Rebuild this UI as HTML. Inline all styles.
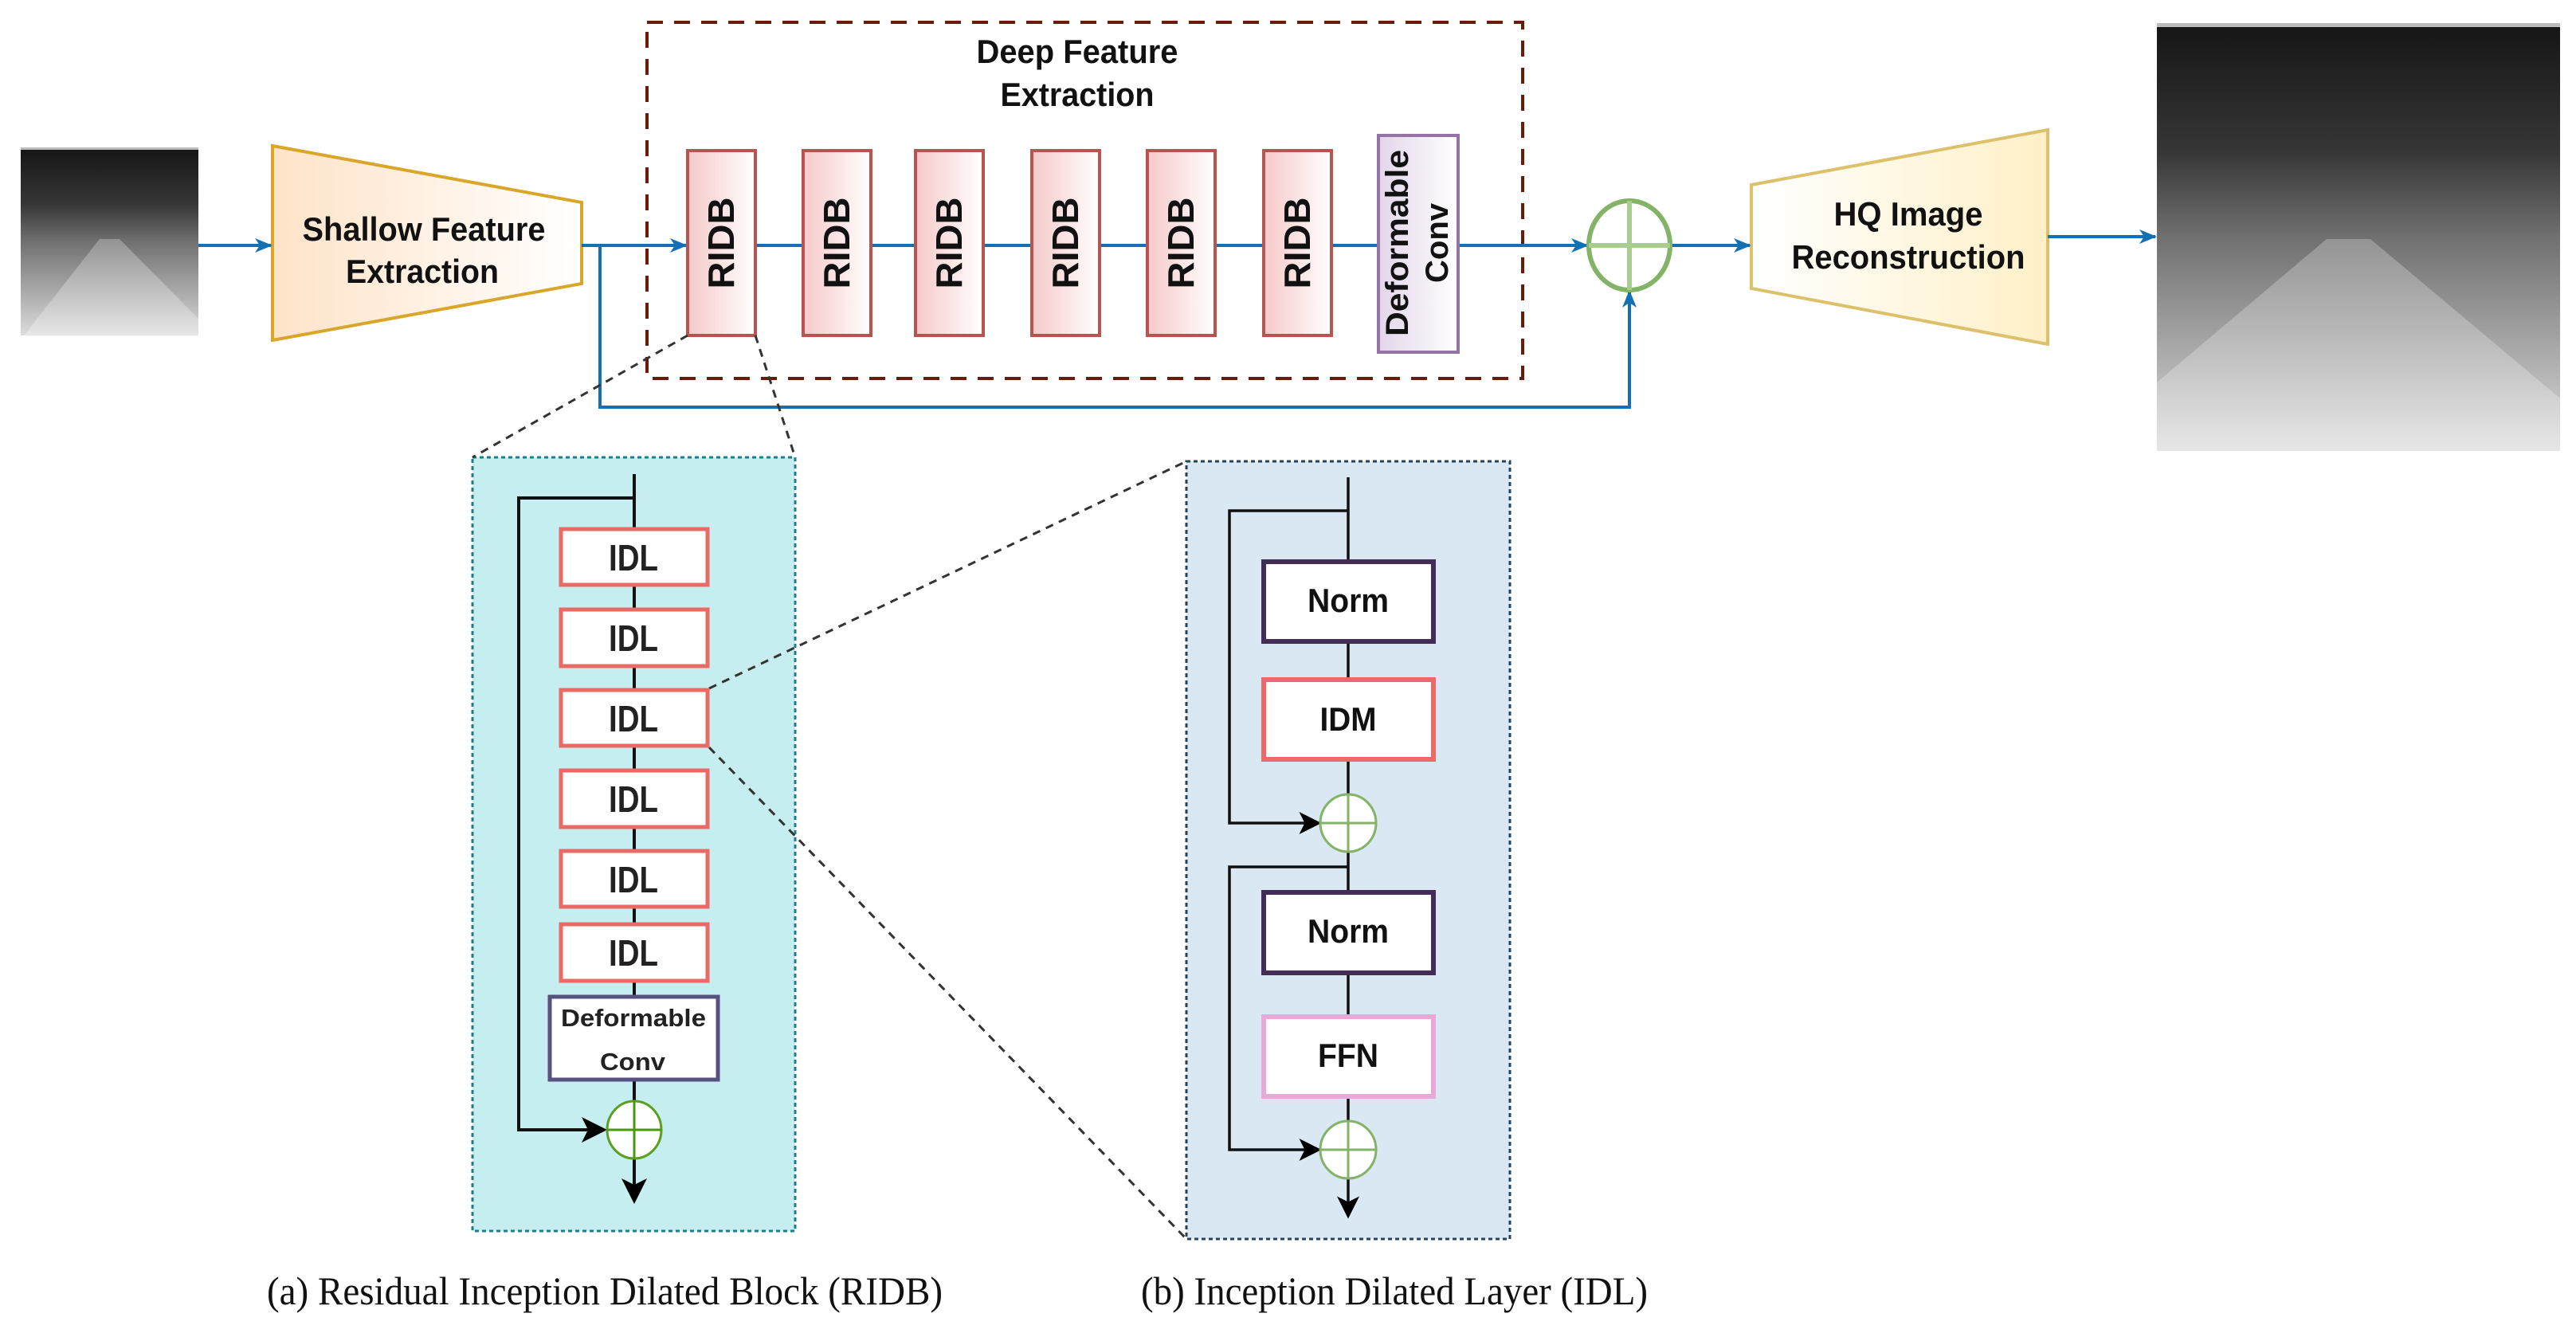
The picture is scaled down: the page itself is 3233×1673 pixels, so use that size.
<!DOCTYPE html>
<html><head><meta charset="utf-8"><style>html,body{margin:0;padding:0;background:#fff}svg{display:block}</style></head><body>
<svg width="3233" height="1673" viewBox="0 0 3233 1673" xmlns="http://www.w3.org/2000/svg" font-family="Liberation Sans, sans-serif">
<defs>
<linearGradient id="pk" x1="0" y1="0" x2="1" y2="0"><stop offset="0" stop-color="#f6c9c9"/><stop offset="1" stop-color="#fff"/></linearGradient>
<linearGradient id="lv" x1="0" y1="0" x2="1" y2="0"><stop offset="0" stop-color="#e3d6ea"/><stop offset="1" stop-color="#fff"/></linearGradient>
<linearGradient id="or" x1="0" y1="0" x2="1" y2="0"><stop offset="0" stop-color="#ffe3c8"/><stop offset="1" stop-color="#fff"/></linearGradient>
<linearGradient id="yl" x1="0" y1="0" x2="1" y2="0"><stop offset="0" stop-color="#fff"/><stop offset="1" stop-color="#fff0c8"/></linearGradient>
<linearGradient id="sky" x1="0" y1="0" x2="0" y2="1"><stop offset="0" stop-color="#151515"/><stop offset="0.3" stop-color="#363636"/><stop offset="0.5" stop-color="#707070"/><stop offset="1" stop-color="#dcdcdc"/></linearGradient>
<linearGradient id="road" x1="0" y1="0" x2="0" y2="1"><stop offset="0" stop-color="#9a9a9a"/><stop offset="1" stop-color="#e8e8e8"/></linearGradient>
<marker id="ab" markerWidth="22" markerHeight="22" refX="20" refY="11" orient="auto" markerUnits="userSpaceOnUse" viewBox="0 0 22 22"><path d="M0,2 L22,11 L0,20 L6,11 z" fill="#1370b5"/></marker>
<marker id="abk" markerWidth="8" markerHeight="8" refX="7" refY="4" orient="auto" viewBox="0 0 8 8"><path d="M0,0 L8,4 L0,8 L2,4 z" fill="#000"/></marker>
</defs>

<!-- input image -->
<rect x="26" y="185" width="223" height="236" fill="url(#sky)"/>
<polygon points="30,421 125,300 150,300 249,400 249,421" fill="url(#road)" opacity="0.85"/>
<rect x="26" y="185" width="223" height="3" fill="#bbb"/>
<!-- output image -->
<rect x="2707" y="29" width="506" height="537" fill="url(#sky)"/>
<polygon points="2707,566 2707,480 2920,300 2975,300 3213,500 3213,566" fill="url(#road)" opacity="0.85"/>
<rect x="2707" y="29" width="506" height="5" fill="#bbb"/>

<!-- trapezoids -->
<polygon points="342,183 730,254 730,356 342,427" fill="url(#or)" stroke="#d9a62a" stroke-width="4"/>
<polygon points="2198,232 2570,163 2570,432 2198,362" fill="url(#yl)" stroke="#dcc06a" stroke-width="4"/>
<g font-weight="bold" font-size="42" text-anchor="middle" fill="#111">
<text x="532" y="302" textLength="305" lengthAdjust="spacingAndGlyphs">Shallow Feature</text>
<text x="530" y="355" textLength="192" lengthAdjust="spacingAndGlyphs">Extraction</text>
<text x="2395" y="283" textLength="187" lengthAdjust="spacingAndGlyphs">HQ Image</text>
<text x="2395" y="337" textLength="293" lengthAdjust="spacingAndGlyphs">Reconstruction</text>
<text x="1352" y="79" textLength="253" lengthAdjust="spacingAndGlyphs">Deep Feature</text>
<text x="1352" y="133" textLength="193" lengthAdjust="spacingAndGlyphs">Extraction</text>
</g>

<!-- deep dashed box -->
<rect x="812" y="28" width="1099" height="447" fill="none" stroke="#6b1c08" stroke-width="4" stroke-dasharray="20,14"/>

<!-- main line connections -->
<g stroke="#1370b5" stroke-width="4" fill="none">
<line x1="249" y1="308" x2="340" y2="308" marker-end="url(#ab)"/>
<line x1="730" y1="308" x2="861" y2="308" marker-end="url(#ab)"/>
<line x1="948" y1="308" x2="1730" y2="308"/>
<line x1="1830" y1="308" x2="1992" y2="308" marker-end="url(#ab)"/>
<line x1="2098" y1="308" x2="2196" y2="308" marker-end="url(#ab)"/>
<line x1="2570" y1="297" x2="2705" y2="297" marker-end="url(#ab)"/>
<polyline points="753,308 753,511 2045,511 2045,366" marker-end="url(#ab)"/>
</g>

<!-- RIDB boxes -->
<g stroke="#b85450" stroke-width="4" fill="url(#pk)">
<rect x="863" y="189" width="85" height="232"/>
<rect x="1008" y="189" width="85" height="232"/>
<rect x="1149" y="189" width="85" height="232"/>
<rect x="1295" y="189" width="85" height="232"/>
<rect x="1440" y="189" width="85" height="232"/>
<rect x="1586" y="189" width="85" height="232"/>
</g>
<g font-weight="bold" font-size="46" fill="#111" text-anchor="middle">
<text transform="translate(921,305) rotate(-90)" textLength="115" lengthAdjust="spacingAndGlyphs">RIDB</text>
<text transform="translate(1066,305) rotate(-90)" textLength="115" lengthAdjust="spacingAndGlyphs">RIDB</text>
<text transform="translate(1207,305) rotate(-90)" textLength="115" lengthAdjust="spacingAndGlyphs">RIDB</text>
<text transform="translate(1353,305) rotate(-90)" textLength="115" lengthAdjust="spacingAndGlyphs">RIDB</text>
<text transform="translate(1498,305) rotate(-90)" textLength="115" lengthAdjust="spacingAndGlyphs">RIDB</text>
<text transform="translate(1644,305) rotate(-90)" textLength="115" lengthAdjust="spacingAndGlyphs">RIDB</text>
</g>
<rect x="1730" y="170" width="100" height="272" fill="url(#lv)" stroke="#9673a6" stroke-width="4"/>
<g font-weight="bold" font-size="40" fill="#111" text-anchor="middle">
<text transform="translate(1767,305) rotate(-90)" textLength="234" lengthAdjust="spacingAndGlyphs">Deformable</text>
<text transform="translate(1817,305) rotate(-90)" textLength="100" lengthAdjust="spacingAndGlyphs">Conv</text>
</g>
<!-- main adder -->
<ellipse cx="2045" cy="308" rx="51" ry="56" fill="#fff" stroke="#82b366" stroke-width="6"/>
<line x1="1994" y1="308" x2="2096" y2="308" stroke="#a9cc8f" stroke-width="6"/>
<line x1="2045" y1="252" x2="2045" y2="364" stroke="#a9cc8f" stroke-width="6"/>

<!-- RIDB panel -->
<rect x="593" y="574" width="405" height="971" fill="#c6edf0" stroke="#1b7f8c" stroke-width="3" stroke-dasharray="5,4"/>
<!-- IDL panel -->
<rect x="1489" y="579" width="406" height="976" fill="#dae8f4" stroke="#23445d" stroke-width="3" stroke-dasharray="5,4"/>

<!-- zoom dashed lines -->
<g stroke="#333" stroke-width="3" stroke-dasharray="10,8" fill="none">
<line x1="863" y1="421" x2="593" y2="574"/>
<line x1="948" y1="421" x2="998" y2="574"/>
<line x1="890" y1="864" x2="1489" y2="579"/>
<line x1="890" y1="938" x2="1489" y2="1555"/>
</g>

<g stroke="#111" stroke-width="4" fill="none">
<line x1="796" y1="595" x2="796" y2="1382"/>
<polyline points="796,625 651,625 651,1418 758,1418" marker-end="url(#abk)"/>
<line x1="796" y1="1454" x2="796" y2="1507" marker-end="url(#abk)"/>
</g>
<g fill="#fff" stroke="#ea6b66" stroke-width="5">
<rect x="704" y="664" width="184" height="70"/>
<rect x="704" y="765" width="184" height="71"/>
<rect x="704" y="866" width="184" height="70"/>
<rect x="704" y="967" width="184" height="71"/>
<rect x="704" y="1068" width="184" height="70"/>
<rect x="704" y="1160" width="184" height="71"/>
</g>
<g font-weight="bold" font-size="46" fill="#222" text-anchor="middle">
<text x="795" y="716" textLength="62" lengthAdjust="spacingAndGlyphs">IDL</text>
<text x="795" y="817" textLength="62" lengthAdjust="spacingAndGlyphs">IDL</text>
<text x="795" y="918" textLength="62" lengthAdjust="spacingAndGlyphs">IDL</text>
<text x="795" y="1019" textLength="62" lengthAdjust="spacingAndGlyphs">IDL</text>
<text x="795" y="1120" textLength="62" lengthAdjust="spacingAndGlyphs">IDL</text>
<text x="795" y="1212" textLength="62" lengthAdjust="spacingAndGlyphs">IDL</text>
</g>
<rect x="690" y="1251" width="211" height="104" fill="#fff" stroke="#56517e" stroke-width="5"/>
<g font-weight="bold" font-size="31" fill="#222" text-anchor="middle">
<text x="795" y="1288" textLength="182" lengthAdjust="spacingAndGlyphs">Deformable</text>
<text x="794" y="1343" textLength="82" lengthAdjust="spacingAndGlyphs">Conv</text>
</g>
<ellipse cx="796" cy="1418" rx="34" ry="36" fill="#fff" stroke="#5aa020" stroke-width="3"/>
<line x1="762" y1="1418" x2="830" y2="1418" stroke="#4a9a10" stroke-width="3"/>
<line x1="796" y1="1382" x2="796" y2="1454" stroke="#4a9a10" stroke-width="3"/>

<g stroke="#111" stroke-width="3.5" fill="none">
<line x1="1692" y1="599" x2="1692" y2="1407"/>
<polyline points="1692,641 1543,641 1543,1033 1655,1033" marker-end="url(#abk)"/>
<polyline points="1692,1088 1543,1088 1543,1443 1655,1443" marker-end="url(#abk)"/>
<line x1="1692" y1="1479" x2="1692" y2="1526" marker-end="url(#abk)"/>
</g>
<rect x="1586" y="705" width="213" height="100" fill="#fff" stroke="#432d57" stroke-width="6"/>
<rect x="1586" y="853" width="213" height="100" fill="#fff" stroke="#ea6b66" stroke-width="6"/>
<rect x="1586" y="1120" width="213" height="101" fill="#fff" stroke="#432d57" stroke-width="6"/>
<rect x="1586" y="1276" width="213" height="100" fill="#fff" stroke="#e8a9d8" stroke-width="6"/>
<g font-weight="bold" font-size="42" fill="#111" text-anchor="middle">
<text x="1692" y="768" textLength="102" lengthAdjust="spacingAndGlyphs">Norm</text>
<text x="1692" y="917" textLength="71" lengthAdjust="spacingAndGlyphs">IDM</text>
<text x="1692" y="1183" textLength="102" lengthAdjust="spacingAndGlyphs">Norm</text>
<text x="1692" y="1339" textLength="76" lengthAdjust="spacingAndGlyphs">FFN</text>
</g>
<g fill="#fff" stroke="#82b366" stroke-width="3">
<ellipse cx="1692" cy="1033" rx="35" ry="36"/>
<ellipse cx="1692" cy="1443" rx="35" ry="36"/>
</g>
<g stroke="#82b366" stroke-width="3">
<line x1="1657" y1="1033" x2="1727" y2="1033"/><line x1="1692" y1="997" x2="1692" y2="1069"/>
<line x1="1657" y1="1443" x2="1727" y2="1443"/><line x1="1692" y1="1407" x2="1692" y2="1479"/>
</g>

<!-- captions -->
<g font-family="Liberation Serif, serif" font-size="50" fill="#111">
<text x="335" y="1637" textLength="848" lengthAdjust="spacingAndGlyphs">(a) Residual Inception Dilated Block (RIDB)</text>
<text x="1432" y="1637" textLength="636" lengthAdjust="spacingAndGlyphs">(b) Inception Dilated Layer (IDL)</text>
</g>
</svg>
</body></html>
